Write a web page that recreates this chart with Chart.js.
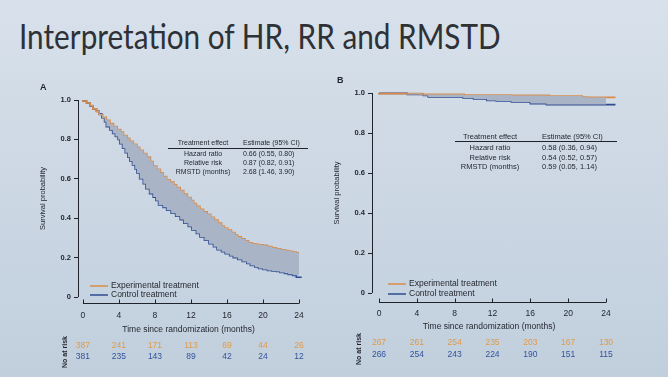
<!DOCTYPE html>
<html>
<head>
<meta charset="utf-8">
<script src="https://cdn.jsdelivr.net/npm/chart.js@4"></script>
<style>
  html, body { margin: 0; padding: 0; }
  body {
    width: 668px; height: 377px; overflow: hidden; position: relative;
    background: linear-gradient(180deg, #d8e1eb 0%, #cdd8e4 45%, #c1cfdd 100%);
    font-family: "Liberation Sans", Arial, sans-serif;
  }
  #title {
    position: absolute; left: 19px; top: 14px; white-space: nowrap;
    font-family: Lato, "Open Sans", sans-serif; font-size: 35px; color: #2e3136;
    transform: scaleX(0.85); transform-origin: left top;
  }
  .panel { position: absolute; top: 0; }
  #panelA { left: 0; width: 330px; height: 377px; }
  #panelB { left: 330px; width: 338px; height: 377px; }
</style>
</head>
<body>
<div id="title">Interpretation of HR, RR and RMSTD</div>
<div class="panel" id="panelA"><canvas id="chartA"></canvas></div>
<div class="panel" id="panelB"><canvas id="chartB"></canvas></div>
<script>
// tick values
const monthTicks = [0, 4, 8, 12, 16, 20, 24];
const probTicks = [0, 0.2, 0.4, 0.6, 0.8, 1.0];

// panel A - Kaplan-Meier estimates
const expTimeA = [0, 0.4, 0.8, 1.1, 1.5, 1.8, 2.2, 2.6, 3.0, 3.4, 3.8, 4.2, 4.5, 4.9, 5.2, 5.6, 6.0, 6.3, 6.7, 7.1, 7.5, 7.8, 8.2, 8.6, 8.9, 9.3, 9.7, 10.1, 10.4, 10.8, 11.2, 11.6, 12.0, 12.3, 12.6, 13.0, 13.4, 13.8, 14.2, 14.6, 15.0, 15.4, 15.7, 16.1, 16.5, 16.9, 17.2, 17.6, 18.0, 18.4, 18.8, 19.2, 19.5, 20.0, 20.5, 21.0, 21.5, 22.0, 22.5, 22.9, 23.3, 23.7, 24.0, 24.8];
const expSurvA = [1.0, 0.995, 0.985, 0.972, 0.955, 0.94, 0.925, 0.912, 0.897, 0.88, 0.865, 0.85, 0.837, 0.82, 0.805, 0.79, 0.775, 0.76, 0.745, 0.728, 0.71, 0.688, 0.665, 0.648, 0.63, 0.612, 0.595, 0.583, 0.57, 0.556, 0.54, 0.522, 0.505, 0.49, 0.475, 0.46, 0.445, 0.432, 0.42, 0.405, 0.39, 0.375, 0.36, 0.35, 0.34, 0.327, 0.315, 0.305, 0.295, 0.285, 0.275, 0.27, 0.268, 0.265, 0.262, 0.256, 0.25, 0.245, 0.24, 0.236, 0.232, 0.228, 0.225, 0.225];
const ctrlTimeA = [0, 0.4, 0.8, 1.1, 1.5, 1.8, 2.1, 2.4, 2.6, 3.0, 3.3, 3.6, 3.9, 4.1, 4.4, 4.7, 5.0, 5.2, 5.5, 5.8, 6.0, 6.3, 6.7, 7.0, 7.4, 7.8, 8.1, 8.4, 8.9, 9.3, 9.8, 10.3, 10.8, 11.2, 11.7, 12.1, 12.6, 13.0, 13.5, 14.0, 14.5, 14.9, 15.4, 15.8, 16.3, 16.7, 17.2, 17.7, 18.2, 18.6, 19.1, 19.5, 20.0, 20.5, 21.0, 21.5, 21.9, 22.4, 22.8, 23.3, 23.7, 24.3, 24.8];
const ctrlSurvA = [1.0, 0.995, 0.985, 0.97, 0.955, 0.943, 0.93, 0.91, 0.89, 0.865, 0.848, 0.83, 0.815, 0.8, 0.778, 0.755, 0.732, 0.71, 0.69, 0.67, 0.65, 0.63, 0.6, 0.575, 0.55, 0.525, 0.507, 0.49, 0.467, 0.455, 0.44, 0.425, 0.41, 0.393, 0.375, 0.358, 0.34, 0.322, 0.305, 0.288, 0.27, 0.255, 0.24, 0.23, 0.22, 0.21, 0.2, 0.19, 0.18, 0.17, 0.16, 0.152, 0.145, 0.14, 0.135, 0.132, 0.13, 0.125, 0.12, 0.115, 0.11, 0.1, 0.09];
const riskExpA = [387, 241, 171, 113, 69, 44, 26];
const riskCtrlA = [381, 235, 143, 89, 42, 24, 12];
const effectsA = [
    ['Hazard ratio', '0.66 (0.55, 0.80)'],
    ['Relative risk', '0.87 (0.82, 0.91)'],
    ['RMSTD (months)', '2.68 (1.46, 3.90)']
];

// panel B
const expTimeB = [0, 4.5, 9.0, 14.0, 18.0, 21.5, 22.0, 23.0, 25.0];
const expSurvB = [1.0, 0.997, 0.993, 0.99, 0.988, 0.985, 0.98, 0.978, 0.978];
const ctrlTimeB = [0, 3.0, 4.7, 5.2, 8.9, 10.0, 11.4, 12.4, 14.0, 16.0, 17.7, 19.5, 25.0];
const ctrlSurvB = [1.0, 0.998, 0.993, 0.988, 0.98, 0.975, 0.97, 0.963, 0.96, 0.955, 0.947, 0.942, 0.942];
const riskExpB = [267, 261, 254, 235, 203, 167, 130];
const riskCtrlB = [266, 254, 243, 224, 190, 151, 115];
const effectsB = [
    ['Hazard ratio', '0.58 (0.36, 0.94)'],
    ['Relative risk', '0.54 (0.52, 0.57)'],
    ['RMSTD (months)', '0.59 (0.05, 1.14)']
];

const ORANGE = '#d98c4a';
const BLUE = '#2f4b90';
const SHADE = '#a9b5c6';
const INK = '#1f232b';
const FONT = '"Liberation Sans", Arial, sans-serif';

function toPoints(times, surv) {
    return times.map((t, i) => ({ x: t, y: surv[i] }));
}

// step curve cut at month 24, for the shaded RMST band
function shadePoints(times, surv) {
    const pts = toPoints(times, surv).filter(d => d.x <= 24);
    const last = pts[pts.length - 1];
    if (last.x < 24) pts.push({ x: 24, y: last.y });
    return pts;
}

// draws axes lines, inset table, legend and numbers at risk
function kmExtras(p) {
    return {
        id: 'kmExtras',
        afterDraw(chart) {
            const ctx = chart.ctx;
            const xs = chart.scales.x;
            const ys = chart.scales.y;
            const area = chart.chartArea;
            ctx.save();
            ctx.strokeStyle = INK;
            ctx.lineWidth = 1;

            // y axis
            const ax = Math.round(area.left) + 0.5;
            ctx.beginPath();
            ctx.moveTo(ax, ys.getPixelForValue(0));
            ctx.lineTo(ax, ys.getPixelForValue(1));
            ctx.stroke();

            // x axis, ticks pointing up
            const ay = Math.round(area.bottom + p.xGap) + 0.5;
            ctx.beginPath();
            ctx.moveTo(xs.getPixelForValue(0), ay);
            ctx.lineTo(xs.getPixelForValue(24), ay);
            monthTicks.forEach(t => {
                const px = Math.round(xs.getPixelForValue(t)) + 0.5;
                ctx.moveTo(px, ay);
                ctx.lineTo(px, ay - 4);
            });
            ctx.stroke();

            ctx.fillStyle = INK;
            // panel letter
            ctx.font = 'bold 9px ' + FONT;
            ctx.textAlign = 'left';
            ctx.textBaseline = 'middle';
            ctx.fillText(p.letter, p.letterX, p.letterY);

            // inset table
            const tl = area.left, tt = area.top;
            ctx.font = p.tableFont + 'px ' + FONT;
            ctx.textAlign = 'center';
            ctx.fillText('Treatment effect', tl + p.col1, tt + p.headY);
            ctx.textAlign = 'left';
            ctx.fillText('Estimate (95% CI)', tl + p.col2, tt + p.headY);
            ctx.beginPath();
            ctx.moveTo(tl + p.lineFrom, Math.round(tt + p.lineY) + 0.5);
            ctx.lineTo(tl + p.lineTo, Math.round(tt + p.lineY) + 0.5);
            ctx.stroke();
            p.effects.forEach((row, i) => {
                const ry = tt + p.rowY + i * p.rowGap;
                ctx.textAlign = 'center';
                ctx.fillText(row[0], tl + p.col1, ry);
                ctx.textAlign = 'left';
                ctx.fillText(row[1], tl + p.col2, ry);
            });

            // legend
            ctx.font = '8.5px ' + FONT;
            [[ORANGE, 'Experimental treatment', p.legY1], [BLUE, 'Control treatment', p.legY2]].forEach(([c, label, ly]) => {
                ctx.strokeStyle = c;
                ctx.lineWidth = 1.5;
                ctx.beginPath();
                ctx.moveTo(tl + p.legX, area.bottom + ly);
                ctx.lineTo(tl + p.legX + 18, area.bottom + ly);
                ctx.stroke();
                ctx.fillStyle = INK;
                ctx.textAlign = 'left';
                ctx.fillText(label, tl + p.legX + 21, area.bottom + ly);
            });

            // numbers at risk
            ctx.font = '8.5px ' + FONT;
            ctx.textAlign = 'center';
            monthTicks.forEach((t, i) => {
                const px = xs.getPixelForValue(t);
                ctx.fillStyle = '#e39a45';
                ctx.fillText(String(p.riskExp[i]), px, area.bottom + p.riskY1);
                ctx.fillStyle = '#34529a';
                ctx.fillText(String(p.riskCtrl[i]), px, area.bottom + p.riskY2);
            });
            ctx.save();
            ctx.translate(tl - 13, area.bottom + p.riskLabelY);
            ctx.rotate(-Math.PI / 2);
            ctx.fillStyle = INK;
            ctx.font = 'bold 7px ' + FONT;
            ctx.fillText('No at risk', 0, 0);
            ctx.restore();

            ctx.restore();
        }
    };
}

function makeChart(id, p) {
    const line = (data, color) => ({
        data: data, borderColor: color, borderWidth: 1.6,
        stepped: 'after', pointRadius: 0, fill: false, clip: false
    });
    return new Chart(document.getElementById(id), {
        type: 'line',
        data: {
            datasets: [
                { data: shadePoints(p.expTime, p.expSurv), borderWidth: 0, pointRadius: 0, stepped: 'after', fill: false },
                { data: shadePoints(p.ctrlTime, p.ctrlSurv), borderWidth: 0, pointRadius: 0, stepped: 'after', fill: '-1', backgroundColor: SHADE },
                line(toPoints(p.expTime, p.expSurv), ORANGE),
                line(toPoints(p.ctrlTime, p.ctrlSurv), BLUE)
            ]
        },
        options: {
            responsive: true,
            maintainAspectRatio: false,
            animation: false,
            layout: { padding: p.padding },
            plugins: { legend: { display: false }, tooltip: { enabled: false } },
            scales: {
                x: {
                    type: 'linear',
                    min: p.xMin,
                    max: 24,
                    afterBuildTicks: s => { s.ticks = monthTicks.map(v => ({ value: v })); },
                    afterFit: s => { s.height = p.xHeight; },
                    grid: { display: false, drawTicks: false },
                    border: { display: false },
                    ticks: { padding: p.xTickPad, color: INK, font: { size: 8.5, family: FONT }, maxRotation: 0 },
                    title: {
                        display: true, text: 'Time since randomization (months)', color: INK,
                        font: { size: 8.5, family: FONT }, padding: 0
                    }
                },
                y: {
                    min: 0,
                    max: 1,
                    afterBuildTicks: s => { s.ticks = probTicks.map(v => ({ value: v })); },
                    afterFit: s => { s.width = 40; },
                    grid: { drawOnChartArea: false, drawTicks: true, tickLength: 4, color: INK },
                    border: { display: false },
                    ticks: {
                        padding: 3, color: INK, font: { size: 7.5, family: FONT, weight: 'bold' },
                        callback: v => v === 0 ? '0' : v.toFixed(1)
                    },
                    title: {
                        display: true, text: 'Survival probability', color: INK,
                        font: { size: 7.5, family: FONT }, padding: 0
                    }
                }
            }
        },
        plugins: [kmExtras(p)]
    });
}

makeChart('chartA', {
    expTime: expTimeA, expSurv: expSurvA, ctrlTime: ctrlTimeA, ctrlSurv: ctrlSurvA,
    riskExp: riskExpA, riskCtrl: riskCtrlA, effects: effectsA,
    padding: { left: 38, top: 100, right: 31, bottom: 42 },
    xMin: -0.55, xHeight: 38, xTickPad: 14, xGap: 6,
    letter: 'A', letterX: 40, letterY: 88,
    tableFont: 7, col1: 125, col2: 165, headY: 43, lineY: 48, lineFrom: 90, lineTo: 230, rowY: 54, rowGap: 9,
    legX: 12, legY1: -11, legY2: -2,
    riskY1: 49, riskY2: 60, riskLabelY: 55
});

makeChart('chartB', {
    expTime: expTimeB, expSurv: expSurvB, ctrlTime: ctrlTimeB, ctrlSurv: ctrlSurvB,
    riskExp: riskExpB, riskCtrl: riskCtrlB, effects: effectsB,
    padding: { left: 2, top: 93, right: 62, bottom: 45 },
    xMin: -0.74, xHeight: 39, xTickPad: 16, xGap: 9,
    letter: 'B', letterX: 7, letterY: 81,
    tableFont: 7.5, col1: 118, col2: 170, headY: 44, lineY: 48, lineFrom: 83, lineTo: 245, rowY: 55, rowGap: 9.5,
    legX: 16, legY1: -9, legY2: 1,
    riskY1: 50, riskY2: 62, riskLabelY: 56
});
</script>
</body>
</html>
